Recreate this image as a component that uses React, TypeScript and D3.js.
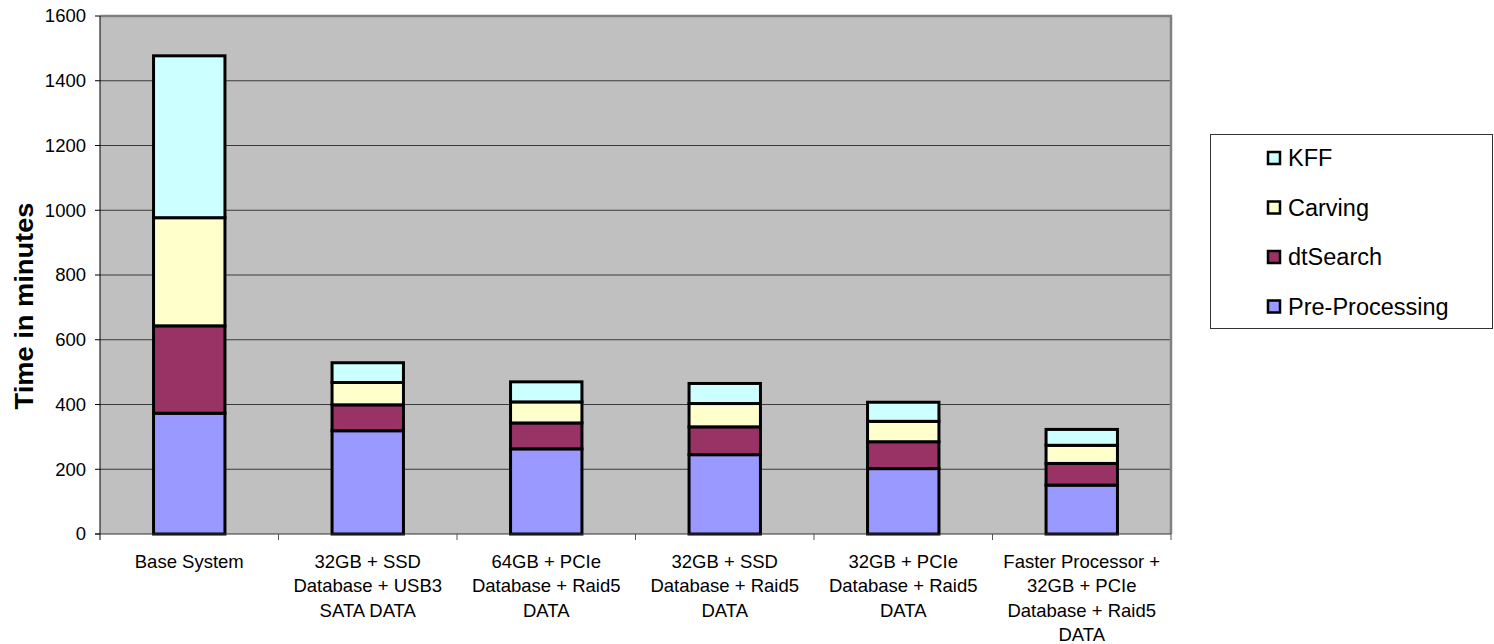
import React from "react";
import * as d3 from "d3";

const categories: string[][] = [
  ["Base System"],
  ["32GB + SSD", "Database + USB3", "SATA DATA"],
  ["64GB + PCIe", "Database + Raid5", "DATA"],
  ["32GB + SSD", "Database + Raid5", "DATA"],
  ["32GB + PCIe", "Database + Raid5", "DATA"],
  ["Faster Processor +", "32GB + PCIe", "Database + Raid5", "DATA"],
];

const seriesNames = ["Pre-Processing", "dtSearch", "Carving", "KFF"];
const preProcessing = [373, 319, 263, 245, 202, 151];
const dtSearch = [270, 80, 80, 86, 83, 67];
const carving = [334, 69, 65, 72, 63, 56];
const kff = [500, 61, 62, 62, 59, 49];
const seriesColors = ["#9999FF", "#993366", "#FFFFCC", "#CCFFFF"];
const yTicks = [0, 200, 400, 600, 800, 1000, 1200, 1400, 1600];

const FONT = "'Liberation Sans', Arial, Helvetica, sans-serif";

export default function App() {
  const W = 1494, H = 644;
  const left = 100, right = 1171, top = 16, bottom = 534;
  const keys = categories.map((c) => c.join(" "));
  const x = d3.scaleBand<string>().domain(keys).range([left, right]).paddingInner(0.6).paddingOuter(0.3);
  const y = d3.scaleLinear().domain([0, 1600]).range([bottom, top]);

  const rows = keys.map((k, i) => ({
    key: k,
    "Pre-Processing": preProcessing[i],
    dtSearch: dtSearch[i],
    Carving: carving[i],
    KFF: kff[i],
  }));
  const stacked = d3.stack<any>().keys(seriesNames)(rows);
  const step = x.step();

  return (
    <svg width={W} height={H} style={{ position: "absolute", left: 0, top: 0, background: "#fff" }} fontFamily={FONT}>
      <rect x={left} y={top} width={right - left} height={bottom - top} fill="#C0C0C0" />
      {yTicks.slice(1).map((t) => (
        <line key={"g" + t} x1={left} x2={right} y1={y(t)} y2={y(t)} stroke="#3a3a3a" strokeWidth={1} />
      ))}
      {/* plot border top/right */}
      <path d={`M${left},${top} H${right} V${bottom}`} fill="none" stroke="#808080" strokeWidth={2.5} />
      {stacked.map((s, si) => (
        <g key={s.key}>
          {s.map((d, i) => (
            <rect
              key={i}
              x={x(keys[i])!}
              y={y(d[1])}
              width={x.bandwidth()}
              height={y(d[0]) - y(d[1])}
              fill={seriesColors[si]}
              stroke="#000"
              strokeWidth={3}
            />
          ))}
        </g>
      ))}
      {/* axes */}
      <line x1={left} x2={left} y1={top} y2={bottom + 6} stroke="#000" strokeWidth={1} />
      <line x1={left - 5} x2={right} y1={bottom} y2={bottom} stroke="#333" strokeWidth={1} />
      {yTicks.map((t) => (
        <g key={"t" + t}>
          <line x1={left - 5} x2={left} y1={y(t)} y2={y(t)} stroke="#000" />
          <text x={86} y={y(t)} dy="0.35em" textAnchor="end" fontSize={18.5} fill="#000">
            {t}
          </text>
        </g>
      ))}
      {keys.map((k, i) => (
        <line key={"xt" + i} x1={left + step * (i + 1)} x2={left + step * (i + 1)} y1={bottom} y2={bottom + 6} stroke="#555" />
      ))}
      {categories.map((lines, i) => (
        <text key={"c" + i} textAnchor="middle" fontSize={18.5} fill="#000">
          {lines.map((ln, j) => (
            <tspan key={j} x={x(keys[i])! + x.bandwidth() / 2} y={567.5 + j * 24.5}>
              {ln}
            </tspan>
          ))}
        </text>
      ))}
      <text
        transform={`translate(33,306) rotate(-90)`}
        textAnchor="middle"
        fontSize={25}
        fontWeight="bold"
        textLength={207}
        lengthAdjust="spacingAndGlyphs"
        fill="#000"
      >
        Time in minutes
      </text>
      {/* legend */}
      <rect x={1210.5} y={134.5} width={282} height={194} fill="#fff" stroke="#333" strokeWidth={1} />
      {[...seriesNames].reverse().map((n, i) => {
        const si = seriesNames.length - 1 - i;
        const cy = 158 + i * 49.5;
        return (
          <g key={n}>
            <rect x={1268} y={cy - 6} width={12} height={12} fill={seriesColors[si]} stroke="#000" strokeWidth={2.5} />
            <text x={1288} y={cy} dy="0.36em" fontSize={23.5} fill="#000">
              {n}
            </text>
          </g>
        );
      })}
    </svg>
  );
}
